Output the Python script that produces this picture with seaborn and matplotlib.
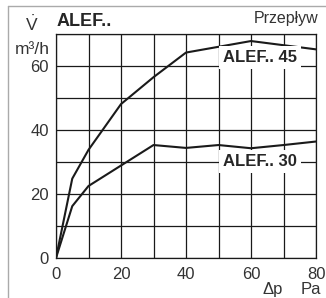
import pandas as pd
import matplotlib
matplotlib.use("Agg")
import matplotlib.pyplot as plt
import seaborn as sns
from matplotlib.lines import Line2D

# Data (pressure drop in Pa vs flow in m3/h)
dp_45 = [0, 5, 10, 20, 30, 40, 50, 60, 70, 80]
flow_45 = [0, 24.8, 33.8, 48.1, 56.5, 64.2, 66.0, 67.8, 66.5, 65.2]
dp_30 = [0, 5, 10, 20, 30, 40, 50, 60, 70, 80]
flow_30 = [0, 16.2, 22.5, 28.9, 35.3, 34.4, 35.3, 34.3, 35.3, 36.4]
series_names = ["ALEF.. 45", "ALEF.. 30"]
x_ticks = [0, 20, 40, 60, 80]
y_ticks = [0, 20, 40, 60]

df = pd.concat([
    pd.DataFrame({"dp": dp_45, "flow": flow_45, "model": series_names[0]}),
    pd.DataFrame({"dp": dp_30, "flow": flow_30, "model": series_names[1]}),
])

sns.set_style("white")
plt.rcParams["font.family"] = ["Liberation Sans", "DejaVu Sans"]
plt.rcParams["mathtext.fontset"] = "custom"
plt.rcParams["mathtext.rm"] = "Liberation Sans"

W, H = 326, 298
fig = plt.figure(figsize=(W / 100, H / 100), dpi=100)
ax = fig.add_axes([56 / W, (H - 258) / H, 260 / W, 224 / H])

sns.lineplot(data=df, x="dp", y="flow", hue="model",
             palette=["#1a1a1a", "#1a1a1a"], linewidth=1.5,
             legend=False, ax=ax, sort=False, zorder=3)

ax.set_xlim(0, 80)
ax.set_ylim(0, 70)
ax.set_xticks(range(0, 81, 10))
ax.set_yticks(range(0, 71, 10))
ax.grid(True, color="#1a1a1a", linewidth=0.9)
ax.set_xticklabels([str(v) if v in x_ticks else "" for v in range(0, 81, 10)])
ax.set_yticklabels([str(v) if v in y_ticks else "" for v in range(0, 71, 10)])
ax.tick_params(axis="x", length=0, labelsize=12, labelcolor="#333333", pad=6.5)
ax.tick_params(axis="y", length=0, labelsize=12, labelcolor="#333333", pad=5)
ax.set_xlabel("")
ax.set_ylabel("")
for s in ax.spines.values():
    s.set_color("#1a1a1a")
    s.set_linewidth(0.9)

box = dict(facecolor="white", edgecolor="none", pad=3)
ax.text(62.8, 62.6, series_names[0], ha="center", va="center", fontsize=12,
        fontweight="bold", bbox=box, zorder=4)
ax.text(62.8, 30.2, series_names[1], ha="center", va="center", fontsize=12,
        fontweight="bold", bbox=box, zorder=4)

# Titles and axis captions
fig.text(57 / W, 1 - 21.5 / H, "ALEF..", ha="left", va="center", fontsize=13,
         fontweight="bold")
fig.text(318 / W, 1 - 18 / H, "Przepływ", ha="right", va="center",
         fontsize=11.5, color="#333333")
fig.text(32 / W, 1 - 24 / H, r"$\dot{\mathrm{V}}$", ha="center", va="center",
         fontsize=12.5, color="#333333")
fig.text(50 / W, 1 - 49 / H, "m³/h", ha="right", va="center",
         fontsize=12.5, color="#333333")
fig.text(273 / W, 1 - 294 / H, "Δp", ha="center", va="baseline",
         fontsize=12, color="#333333")
fig.text(311 / W, 1 - 294 / H, "Pa", ha="center", va="baseline",
         fontsize=12, color="#333333")

# light grey frame on top and left
fig.add_artist(Line2D([8 / W, 1], [1 - 5.5 / H, 1 - 5.5 / H],
                      color="#aaaaaa", linewidth=1))
fig.add_artist(Line2D([8 / W, 8 / W], [0, 1 - 5.5 / H],
                      color="#aaaaaa", linewidth=1))

fig.savefig("out.png", dpi=100)
